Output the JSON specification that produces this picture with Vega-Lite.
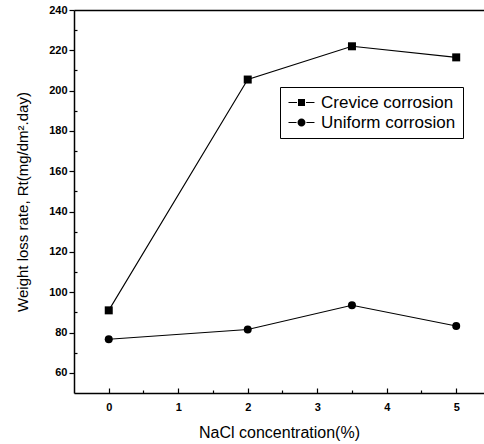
{
  "$schema": "https://vega.github.io/schema/vega-lite/v6.json",
  "width": 410,
  "height": 383,
  "autosize": {"type": "none"},
  "padding": {"left": 74, "top": 10, "right": 0, "bottom": 51},
  "background": "white",
  "config": {
    "view": {"stroke": null},
    "axis": {
      "grid": false,
      "domainColor": "black",
      "tickColor": "black",
      "labelColor": "black",
      "titleColor": "black",
      "labelFont": "Liberation Sans",
      "titleFont": "Liberation Sans",
      "labelFontWeight": 700,
      "labelFontSize": 11,
      "titleFontSize": 15,
      "titleFontWeight": "normal",
      "domainWidth": 1.5,
      "tickWidth": 1.2
    }
  },
  "data": {
    "values": [
      {"nacl": 0, "rate": 91, "series": "Crevice corrosion"},
      {"nacl": 2, "rate": 205.5, "series": "Crevice corrosion"},
      {"nacl": 3.5, "rate": 222, "series": "Crevice corrosion"},
      {"nacl": 5, "rate": 216.5, "series": "Crevice corrosion"},
      {"nacl": 0, "rate": 76.7, "series": "Uniform corrosion"},
      {"nacl": 2, "rate": 81.5, "series": "Uniform corrosion"},
      {"nacl": 3.5, "rate": 93.5, "series": "Uniform corrosion"},
      {"nacl": 5, "rate": 83.2, "series": "Uniform corrosion"}
    ]
  },
  "layer": [
    {
      "mark": {"type": "line", "color": "black", "strokeWidth": 1.1},
      "encoding": {
        "x": {
          "field": "nacl", "type": "quantitative",
          "scale": {"domain": [-0.5, 5.4], "nice": false, "zero": false},
          "axis": {"orient": "bottom", "values": [0, 1, 2, 3, 4, 5], "tickSize": -5, "labelPadding": 13, "labelFontWeight": 700, "title": "NaCl concentration(%)", "titleFontSize": 16, "titlePadding": 12}
        },
        "y": {
          "field": "rate", "type": "quantitative",
          "scale": {"domain": [50, 240], "nice": false, "zero": false},
          "axis": {"orient": "left", "values": [60, 80, 100, 120, 140, 160, 180, 200, 220, 240], "tickSize": 5, "labelPadding": 2, "labelFontWeight": 700, "title": "Weight loss rate, Rt(mg/dm².day)", "titlePadding": 18}
        },
        "detail": {"field": "series"}
      }
    },
    {
      "mark": {"type": "point", "filled": true, "color": "black", "size": 64, "opacity": 1},
      "encoding": {
        "x": {
          "field": "nacl", "type": "quantitative",
          "scale": {"domain": [-0.5, 5.4], "nice": false, "zero": false},
          "axis": {"orient": "bottom", "values": [0.5, 1.5, 2.5, 3.5, 4.5], "tickSize": -3, "labels": false, "domain": false, "title": null}
        },
        "y": {
          "field": "rate", "type": "quantitative",
          "scale": {"domain": [50, 240], "nice": false, "zero": false},
          "axis": {"orient": "left", "values": [70, 90, 110, 130, 150, 170, 190, 210, 230], "tickSize": -3, "labels": false, "domain": false, "title": null}
        },
        "shape": {
          "field": "series", "type": "nominal",
          "scale": {"domain": ["Crevice corrosion", "Uniform corrosion"], "range": ["square", "circle"]},
          "legend": null
        }
      }
    },
    {
      "mark": {"type": "point", "filled": true, "color": "black", "opacity": 0},
      "encoding": {
        "x": {
          "field": "nacl", "type": "quantitative",
          "scale": {"domain": [-0.5, 5.4], "nice": false, "zero": false},
          "axis": {"orient": "top", "ticks": false, "labels": false, "title": null}
        },
        "y": {
          "field": "rate", "type": "quantitative",
          "scale": {"domain": [50, 240], "nice": false, "zero": false},
          "axis": null
        },
        "shape": {
          "field": "series", "type": "nominal",
          "scale": {
            "domain": ["Crevice corrosion", "Uniform corrosion"],
            "range": [
              "M-1,-0.075H0.21V0.075H-1Z M0.357,-0.5H1.357V0.5H0.357Z M1.5,-0.075H2.71V0.075H1.5Z",
              "M-1,-0.075H0.15V0.075H-1Z M0.287,0A0.57,0.57,0,1,0,1.427,0A0.57,0.57,0,1,0,0.287,0Z M1.56,-0.075H2.71V0.075H1.56Z"
            ]
          },
          "legend": {
            "orient": "none",
            "legendX": 206,
            "legendY": 77,
            "title": null,
            "strokeColor": "black",
            "fillColor": "white",
            "padding": 7,
            "symbolSize": 196,
            "symbolOpacity": 1,
            "symbolFillColor": "black",
            "labelFont": "Liberation Sans",
            "labelFontSize": 17,
            "labelColor": "black",
            "labelOffset": 17,
            "rowPadding": 2,
            "encode": {
              "symbols": {"update": {"opacity": {"value": 1}, "fillOpacity": {"value": 1}}}
            }
          }
        }
      }
    }
  ],
  "resolve": {"axis": {"x": "independent", "y": "independent"}, "scale": {"shape": "independent"}}
}
